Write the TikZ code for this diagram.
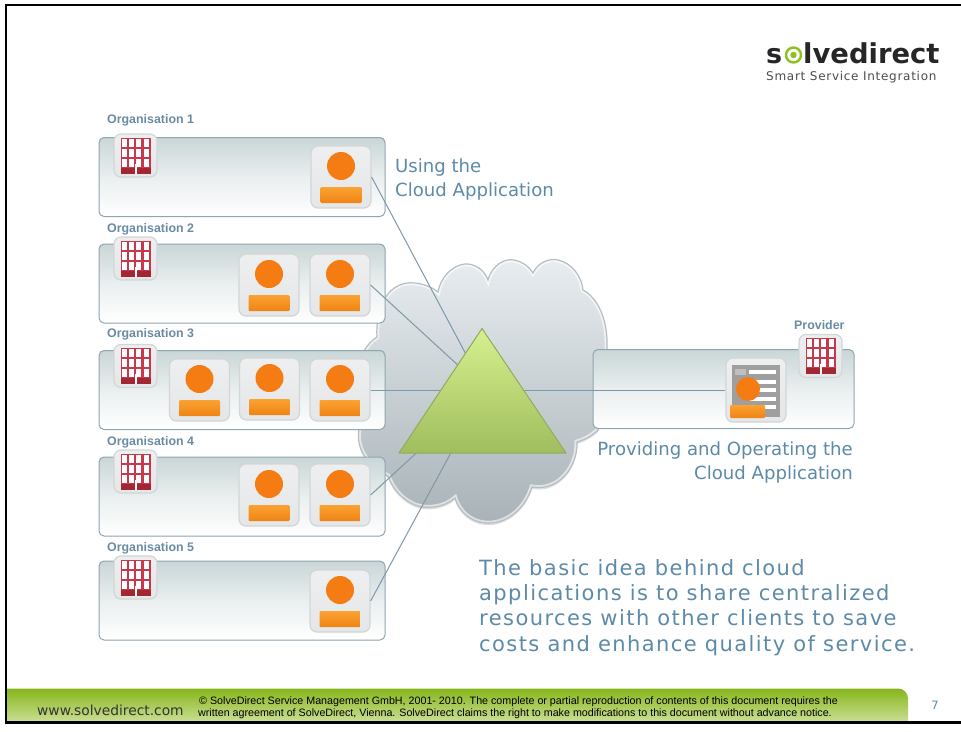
\documentclass[tikz,border=0pt]{standalone}
\usepackage{fontspec}
\usepackage{xcolor}
\usetikzlibrary{shadows}
\setmainfont{DejaVu Sans}
\newfontfamily\notefont{Liberation Sans}
\newfontfamily\widefont[LetterSpace=6.8]{DejaVu Sans}
\newfontfamily\logofont[LetterSpace=6]{DejaVu Sans}

\definecolor{bluetext}{HTML}{5C8AA8}
\definecolor{labeltext}{HTML}{6B8BA3}
\definecolor{boxrim}{HTML}{8FA5AF}
\definecolor{boxtop}{HTML}{C9D6D7}
\definecolor{linkblue}{HTML}{7F98A8}
\definecolor{tilerim}{HTML}{D3D6D6}
\definecolor{tilefill}{HTML}{E6E8E9}
\definecolor{userorange}{HTML}{F47C12}
\definecolor{baseorange}{HTML}{EF8414}
\definecolor{baselight}{HTML}{FAA232}
\definecolor{buildred}{HTML}{C8384A}
\definecolor{builddark}{HTML}{A32633}
\definecolor{cloudtop}{HTML}{E8EDF0}
\definecolor{cloudlow}{HTML}{A8B2B7}
\definecolor{cloudrim}{HTML}{B4BEC3}
\definecolor{trilight}{HTML}{D6F08E}
\definecolor{tridark}{HTML}{A0BE5E}
\definecolor{tririm}{HTML}{93AB5C}
\definecolor{foottop}{HTML}{86B61A}
\definecolor{footlow}{HTML}{CBDF96}
\definecolor{logogreen}{HTML}{8CC21F}

\newcommand{\cloudpath}{(377,337) .. controls (375,305) and (390,280) .. (415,283)
        .. controls (425,284) and (433,288) .. (438,292)
        .. controls (442,272) and (458,263) .. (468,264)
        .. controls (478,265) and (485,272) .. (488,280)
        .. controls (492,265) and (505,258) .. (514,260)
        .. controls (524,262) and (530,268) .. (533,273)
        .. controls (538,262) and (550,258) .. (558,260)
        .. controls (572,263) and (582,277) .. (583,290)
        .. controls (598,298) and (608,320) .. (607,347)
        .. controls (607,380) and (606,410) .. (598,430)
        .. controls (592,436) and (584,440) .. (577,442)
        .. controls (578,465) and (560,492) .. (532,487)
        .. controls (525,510) and (505,525) .. (485,523)
        .. controls (470,522) and (458,510) .. (455,498)
        .. controls (445,507) and (428,510) .. (415,505)
        .. controls (403,500) and (393,490) .. (388,476)
        .. controls (365,465) and (354,445) .. (360,425)
        .. controls (345,400) and (355,350) .. (377,337) -- cycle}

\tikzset{
    orgbox/.style={draw=boxrim, line width=1pt, rounded corners=5pt, top color=boxtop, bottom color=white, middle color=white!60!boxtop, minimum width=286pt, minimum height=79pt, inner sep=0pt},
    tilebox/.style={draw=tilerim, line width=1.2pt, rounded corners=7pt, top color=tilefill!70!white, bottom color=tilefill!90!tilerim, inner sep=0pt},
    orglabel/.style={anchor=west, inner sep=0pt, text=labeltext, font=\notefont\bfseries\fontsize{12.4}{14}\selectfont},
    bluelabel/.style={inner sep=0pt, text=bluetext, font=\fontsize{18.1}{24}\selectfont},
    linkline/.style={draw=linkblue, line width=1pt},
    usertile/.pic={
        \node[tilebox, minimum width=60pt, minimum height=62pt] (box) at (0,0) {};
        \fill[userorange] (0,-11) circle (14);
        \path[top color=baselight, bottom color=baseorange, rounded corners=1pt] (-20.5,10) rectangle (20.5,26);
    },
    buildtile/.pic={
        \node[tilebox, minimum width=43pt, minimum height=43pt] (box) at (0,0) {};
        \fill[buildred] (-15,-18) rectangle (15,18);
        \draw[white, line width=8pt, dash pattern=on 5pt off 2.4pt, dash phase=-1pt] (-15,-13) -- (15,-13);
        \draw[white, line width=8pt, dash pattern=on 5pt off 2.4pt, dash phase=-1pt] (-15,-3) -- (15,-3);
        \draw[white, line width=8pt, dash pattern=on 5pt off 2.4pt, dash phase=-1pt] (-15,7) -- (15,7);
        \fill[builddark] (-15,12) rectangle (15,18);
        \fill[white] (-1,8) rectangle (1,18);
    },
    doctile/.pic={
        \node[tilebox, minimum width=60pt, minimum height=64pt] (box) at (0,0) {};
        \fill[gray!75] (-24,-25) rectangle (24,27);
        \fill[gray!50] (-21,-21) rectangle (-10,-15);
        \fill[white] (-7,-20) rectangle (20,-16);
        \fill[white] (-7,-10) rectangle (20,-6);
        \fill[white] (-7,-2) rectangle (20,2);
        \fill[white] (-7,7) rectangle (20,11);
        \fill[white] (-7,15) rectangle (20,19);
        \fill[userorange] (-8,-1) circle (12);
        \path[top color=baselight, bottom color=baseorange, rounded corners=1pt] (-26,15) rectangle (9,28);
    }
}

\begin{document}
\begin{tikzpicture}[x=1pt,y=-1pt]
    \useasboundingbox (0,0) rectangle (961,731);

    % Footer
    \path[top color=foottop, bottom color=footlow] (7,722) -- (7,688.5) [rounded corners=10pt] -- (908,688.5) [sharp corners] -- (908,722) -- cycle;
    \node[anchor=base west, inner sep=0pt, text=black!80, font=\fontsize{13.8}{15}\selectfont] (website) at (37,715.5) {www.solvedirect.com};
    \node[anchor=base west, inner sep=0pt, font=\notefont\fontsize{10.7}{11}\selectfont] (noteone) at (199,704.5) {© SolveDirect Service Management GmbH, 2001- 2010. The complete or partial reproduction of contents of this document requires the};
    \node[anchor=base west, inner sep=0pt, font=\notefont\fontsize{10.7}{11}\selectfont] (notetwo) at (198,716) {written agreement of SolveDirect, Vienna.  SolveDirect claims the right  to make modifications to this document without advance notice.};
    \node[text=bluetext, inner sep=0pt, font=\fontsize{11.5}{12}\selectfont] (pagenum) at (935,705) {7};

    % Frame
    \draw[line width=2.6pt] (961,5) -- (6,5) -- (6,722.5) -- (961,722.5);

    % Logo
    \node[anchor=base west, inner sep=0pt, text=black!85, font=\bfseries\fontsize{27}{30}\selectfont] (logos) at (766,63) {s};
    \node[circle, draw=logogreen, line width=2.4pt, minimum size=15pt, inner sep=0pt] (logoring) at (793.5,55) {};
    \fill[logogreen] (logoring) circle (3.2);
    \node[anchor=base west, inner sep=0pt, text=black!85, font=\bfseries\fontsize{27.4}{30}\selectfont] (logotext) at (803,63) {lvedirect};
    \node[anchor=base west, inner sep=0pt, text=black!70, font=\logofont\fontsize{12}{13}\selectfont] (logosub) at (766,80.5) {Smart Service Integration};

    % Cloud
    \path[top color=cloudtop, bottom color=cloudlow, drop shadow={shadow xshift=0pt, shadow yshift=-2pt, opacity=0.25}] \cloudpath;
    \begin{scope}
        \clip \cloudpath;
        \draw[white, opacity=0.6, line width=5pt] \cloudpath;
    \end{scope}
    \draw[cloudrim, line width=1.2pt] \cloudpath;

    % Organisations
    \node[orgbox] (orgone) at (242,177) {};
    \node[orgbox] (orgtwo) at (242,283.5) {};
    \node[orgbox] (orgthree) at (242,390) {};
    \node[orgbox] (orgfour) at (242,496.5) {};
    \node[orgbox] (orgfive) at (242,600.5) {};
    \node[orgbox, minimum width=261pt] (provbox) at (723.5,389) {};

    \node[orglabel] (labelone) at (107,120) {Organisation 1};
    \node[orglabel] (labeltwo) at (107,229) {Organisation 2};
    \node[orglabel] (labelthree) at (107,334) {Organisation 3};
    \node[orglabel] (labelfour) at (107,442) {Organisation 4};
    \node[orglabel] (labelfive) at (107,548) {Organisation 5};
    \node[orglabel] (labelprov) at (794,325) {Provider};

    % Buildings
    \pic (bone) at (135.5,155.5) {buildtile};
    \pic (btwo) at (135.5,258.5) {buildtile};
    \pic (bthree) at (135.5,366) {buildtile};
    \pic (bfour) at (135.5,471.5) {buildtile};
    \pic (bfive) at (135.5,577.5) {buildtile};
    \pic (bprov) at (820.5,356) {buildtile};

    % Users
    \pic (uone) at (341,177) {usertile};
    \pic (utwoa) at (269,285) {usertile};
    \pic (utwob) at (340,285) {usertile};
    \pic (uthreea) at (199.5,390) {usertile};
    \pic (uthreeb) at (269.5,389) {usertile};
    \pic (uthreec) at (340,390) {usertile};
    \pic (ufoura) at (269,495) {usertile};
    \pic (ufourb) at (340,495) {usertile};
    \pic (ufive) at (340,601) {usertile};
    \pic (udoc) at (756,390) {doctile};

    % Links
    \coordinate (hub) at (485,390);
    \draw[linkline] (uonebox.east) -- (hub);
    \draw[linkline] (utwobbox.east) -- (hub);
    \draw[linkline] (uthreecbox.east) -- (hub);
    \draw[linkline] (ufourbbox.east) -- (hub);
    \draw[linkline] (ufivebox.east) -- (hub);
    \draw[linkline] (hub) -- (udocbox.west);

    % Triangle
    \path[draw=tririm, line width=1pt, line join=round, top color=trilight, bottom color=tridark] (482,328.5) -- (566,453) -- (399,453) -- cycle;

    % Texts
    \node[bluelabel, anchor=north west, align=left] (usingtext) at (395,159) {Using the\\Cloud Application};
    \node[bluelabel, anchor=north east, align=right] (providingtext) at (853,442) {Providing and Operating the\\Cloud Application};
    \node[anchor=north west, inner sep=0pt, align=left, text=bluetext, font=\widefont\fontsize{21}{25.3}\selectfont] (ideatext) at (479,559) {The basic idea behind cloud\\applications is to share centralized\\resources with other clients to save\\costs and enhance quality of service.};
\end{tikzpicture}
\end{document}
